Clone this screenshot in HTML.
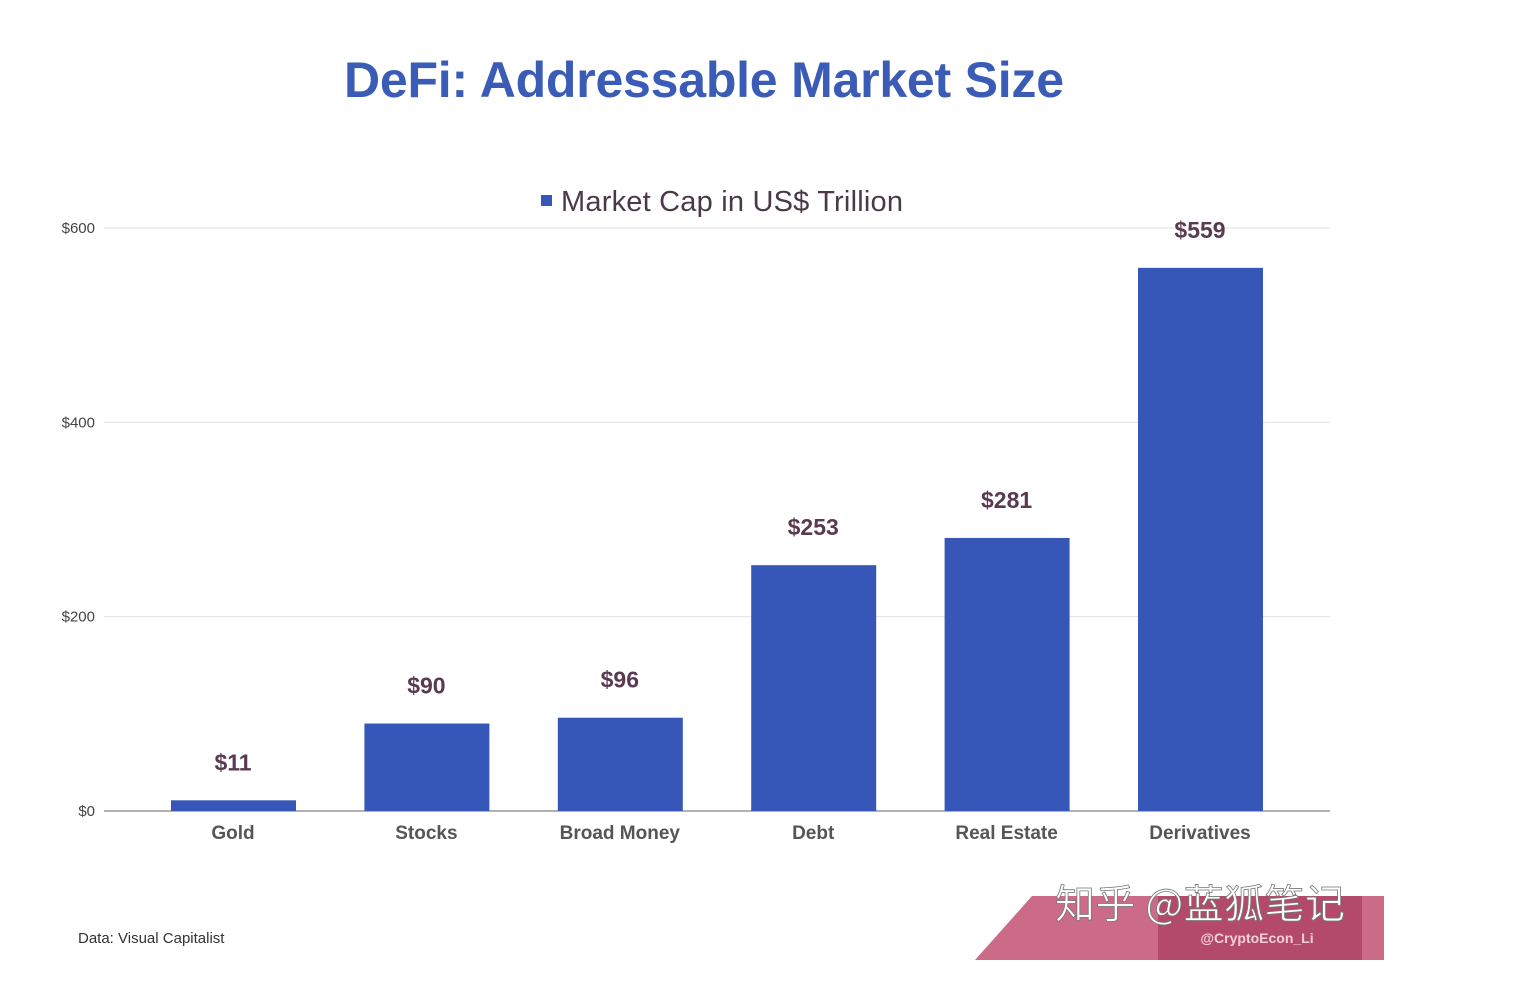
<!DOCTYPE html>
<html><head><meta charset="utf-8"><style>
body{margin:0;background:#fff;width:1524px;height:980px;overflow:hidden;font-family:"Liberation Sans",sans-serif}
</style></head><body>
<svg width="1524" height="980">
<text x="704" y="97" text-anchor="middle" font-size="50" font-weight="bold" fill="#3a5cb7" textLength="720">DeFi: Addressable Market Size</text>
<rect x="541" y="195" width="11" height="11" fill="#3656b8"/>
<text x="561" y="211" font-size="29" fill="#4a3a48" textLength="342">Market Cap in US$ Trillion</text>
<g id="grid"></g><g id="bars"></g>
<text x="78" y="943" font-size="15" fill="#333">Data: Visual Capitalist</text>
<g>
<polygon points="975,960 1032,896 1384,896 1384,960" fill="#cc6b88"/>
<rect x="1158" y="896" width="204" height="64" fill="#b44a6a"/>
<text x="1200" y="918" font-size="40" fill="#fff" stroke="#777" stroke-width="0.8" text-anchor="middle" textLength="290" font-family="'Noto Sans CJK SC',sans-serif">知乎 @蓝狐笔记</text>
<text x="1257" y="943" font-size="14" font-weight="bold" fill="#f2d0da" text-anchor="middle">@CryptoEcon_Li</text>
</g>
</svg>
<script>
const categories=["Gold","Stocks","Broad Money","Debt","Real Estate","Derivatives"];
const values=[11,90,96,253,281,559];
const ticks=[0,200,400,600];
const ns="http://www.w3.org/2000/svg";
const y=v=>811-v*583/600, x=i=>233+i*193.4;
function mk(t,a,p,txt){const e=document.createElementNS(ns,t);for(const k in a)e.setAttribute(k,a[k]);if(txt!=null)e.textContent=txt;p.appendChild(e);return e;}
const g=document.getElementById('grid'),b=document.getElementById('bars');
ticks.forEach(t=>{
const l=mk('line',{x1:104,x2:1330,y1:y(t),y2:y(t),stroke:t?'#e2e2e2':'#999','stroke-width':t?1:1.5},g);


const tx=mk('text',{x:95,y:y(t)+5,'text-anchor':'end','font-size':15,fill:'#444'},g,'$'+t);


});
values.forEach((v,i)=>{
const r=mk('rect',{x:x(i)-62,y:y(v),width:125,height:811-y(v),fill:'#3656b8'},b);


const lb=mk('text',{x:x(i),y:y(v)-30,'text-anchor':'middle','font-size':23,'font-weight':'bold',fill:'#5a3a50'},b,'$'+v);


const c=mk('text',{x:x(i),y:839,'text-anchor':'middle','font-size':19,'font-weight':'bold',fill:'#555'},b,categories[i]);


});
</script>
</body></html>
